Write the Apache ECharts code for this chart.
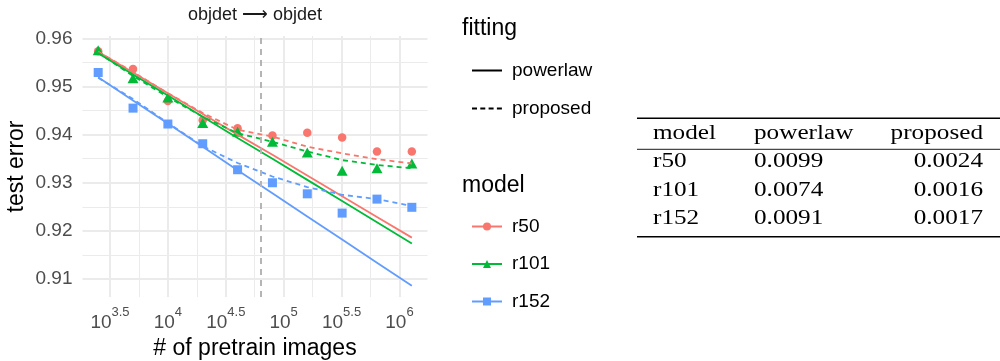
<!DOCTYPE html>
<html><head><meta charset="utf-8">
<script src="https://cdn.jsdelivr.net/npm/echarts@6/dist/echarts.min.js"></script>
<style>html,body{margin:0;padding:0;background:#fff}#c{width:1000px;height:361px}</style>
</head><body><div id="c"></div>
<script>
// ---------- data ----------
const pretrainImages = [2500, 5000, 10000, 20000, 40000, 80000, 160000, 320000, 640000, 1280000];
const modelNames = ['r50', 'r101', 'r152'];
const r50Points  = [0.9573, 0.9536, 0.9470, 0.9430, 0.9413, 0.9398, 0.9404, 0.9394, 0.9365, 0.9365];
const r101Points = [0.9575, 0.9517, 0.9477, 0.9424, 0.9406, 0.9385, 0.9363, 0.9325, 0.9330, 0.9340];
const r152Points = [0.9529, 0.9455, 0.9422, 0.9381, 0.9327, 0.9300, 0.9277, 0.9237, 0.9266, 0.9249];
const r50Powerlaw  = [0.9572, 0.9529, 0.9486, 0.9443, 0.9400, 0.9358, 0.9315, 0.9272, 0.9229, 0.9186];
const r101Powerlaw = [0.9569, 0.9525, 0.9481, 0.9437, 0.9393, 0.9350, 0.9306, 0.9262, 0.9218, 0.9174];
const r152Powerlaw = [0.9519, 0.9471, 0.9423, 0.9375, 0.9326, 0.9278, 0.9230, 0.9182, 0.9134, 0.9086];
const r50Proposed  = [0.9572, 0.9530, 0.9486, 0.9445, 0.9410, 0.9396, 0.9375, 0.9361, 0.9349, 0.9340];
const r101Proposed = [0.9570, 0.9522, 0.9478, 0.9437, 0.9403, 0.9385, 0.9365, 0.9347, 0.9337, 0.9330];
const r152Proposed = [0.9518, 0.9474, 0.9424, 0.9376, 0.9341, 0.9313, 0.9291, 0.9275, 0.9266, 0.9252];
const dividerImages = 63096;
const xTickExponents = [3.5, 4, 4.5, 5, 5.5, 6];
const xTickLabels = ['3.5', '4', '4.5', '5', '5.5', '6'];
const xMinorExponents = [3.75, 4.25, 4.75, 5.25, 5.75];
const yTicks = [0.91, 0.92, 0.93, 0.94, 0.95, 0.96];
const yMinorTicks = [0.915, 0.925, 0.935, 0.945, 0.955];
const tableHeader = ['model', 'powerlaw', 'proposed'];
const tableModels = ['r50', 'r101', 'r152'];
const tablePowerlaw = ['0.0099', '0.0074', '0.0091'];
const tableProposed = ['0.0024', '0.0016', '0.0017'];

// ---------- styling ----------
const colors = ['#F8766D', '#00BA38', '#619CFF'];
const symbols = ['circle', 'triangle', 'rect'];
const symbolSizes = [8.5, [11, 10], 9];
const pointsList = [r50Points, r101Points, r152Points];
const powerList = [r50Powerlaw, r101Powerlaw, r152Powerlaw];
const propList = [r50Proposed, r101Proposed, r152Proposed];
const FONT = 'Liberation Sans';
const xMin = Math.pow(10, 3.2625), xMax = Math.pow(10, 6.2425);
const yMin = 0.90627, yMax = 0.96048;
const pair = arr => pretrainImages.map((x, i) => [x, arr[i]]);

const series = [];
modelNames.forEach((m, i) => {
  series.push({
    name: m + ' data', type: 'scatter', xAxisIndex: 0, yAxisIndex: 0,
    symbol: symbols[i], symbolSize: symbolSizes[i], data: pair(pointsList[i]),
    itemStyle: { color: colors[i], opacity: 1 }, z: 2, silent: true,
    markLine: i === 0 ? {
      silent: true, symbol: 'none', label: { show: false },
      lineStyle: { color: '#b5b5b5', type: [6, 5], width: 2 },
      data: [{ xAxis: dividerImages }]
    } : undefined
  });
});
modelNames.forEach((m, i) => {
  series.push({
    name: m, type: 'line', data: pair(powerList[i]), symbol: symbols[i], showSymbol: false,
    lineStyle: { color: colors[i], width: 1.8, type: 'solid' }, itemStyle: { color: colors[i] },
    z: 3, silent: true
  });
  series.push({
    name: m + ' proposed', type: 'line', data: pair(propList[i]), symbol: 'none', showSymbol: false,
    lineStyle: { color: colors[i], width: 1.8, type: [5, 4] }, itemStyle: { color: colors[i] },
    z: 3, silent: true
  });
});
series.push({ name: 'powerlaw', type: 'line', data: [], symbol: 'circle',
  lineStyle: { color: '#000', width: 1.8, type: 'solid' }, itemStyle: { color: '#000' } });
series.push({ name: 'proposed', type: 'line', data: [], symbol: 'circle',
  lineStyle: { color: '#000', width: 1.8, type: [5, 3.3] }, itemStyle: { color: '#000' } });

// titles & table graphics
const graphics = [];
graphics.push({ type: 'text', x: 255, y: 15, style: { text: 'objdet \u27F6 objdet', font: '18px ' + FONT, fill: '#1a1a1a', textAlign: 'center', textVerticalAlign: 'middle' } });
graphics.push({ type: 'text', x: 462, y: 29, style: { text: 'fitting', font: '23px ' + FONT, fill: '#000', textAlign: 'left', textVerticalAlign: 'middle' } });
graphics.push({ type: 'text', x: 462, y: 186, style: { text: 'model', font: '23px ' + FONT, fill: '#000', textAlign: 'left', textVerticalAlign: 'middle' } });

const TFONT = '20px "Liberation Serif"';
const colX = [653, 754, 983];
const rowY = [133.3, 161.7, 190.7, 219];
const tcell = (txt, x, y, align) => ({ type: 'text', x: x, y: y, scaleX: 1.26,
  style: { text: txt, font: TFONT, fill: '#000', textAlign: align, textVerticalAlign: 'middle' } });
graphics.push(tcell(tableHeader[0], colX[0], rowY[0], 'left'));
graphics.push(tcell(tableHeader[1], colX[1], rowY[0], 'left'));
graphics.push(tcell(tableHeader[2], colX[2], rowY[0], 'right'));
tableModels.forEach((m, i) => {
  graphics.push(tcell(m, colX[0], rowY[i + 1], 'left'));
  graphics.push(tcell(tablePowerlaw[i], colX[1], rowY[i + 1], 'left'));
  graphics.push(tcell(tableProposed[i], colX[2], rowY[i + 1], 'right'));
});
const rule = (y, w) => ({ type: 'line', shape: { x1: 637, y1: y, x2: 1000, y2: y }, style: { stroke: '#000', lineWidth: w } });
graphics.push(rule(118.3, 1.4), rule(149.3, 0.9), rule(236.7, 1.4));

const chart = echarts.init(document.getElementById('c'), null, { renderer: 'canvas' });
chart.setOption({
  animation: false,
  backgroundColor: '#fff',
  grid: { left: 82.5, top: 36, width: 345, height: 261, containLabel: false, outerBoundsMode: 'none' },
  xAxis: [{
    type: 'log', logBase: 10, min: xMin, max: xMax,
    name: '# of pretrain images', nameLocation: 'middle', nameGap: 40,
    nameTextStyle: { fontFamily: FONT, fontSize: 23, color: '#000' },
    axisLine: { show: false },
    axisTick: { show: false, customValues: xTickExponents.map(e => Math.pow(10, e)) },
    axisLabel: {
      customValues: xTickExponents.map(e => Math.pow(10, e)), margin: 9,
      formatter: function (v) {
        const e = Math.log10(v); let idx = 0, best = Infinity;
        xTickExponents.forEach((t, i) => { if (Math.abs(t - e) < best) { best = Math.abs(t - e); idx = i; } });
        return '{b|10}{s|' + xTickLabels[idx] + '}';
      },
      rich: {
        b: { fontFamily: FONT, fontSize: 19, color: '#4d4d4d', verticalAlign: 'bottom', lineHeight: 26 },
        s: { fontFamily: FONT, fontSize: 13, color: '#4d4d4d', verticalAlign: 'top', lineHeight: 13 }
      }
    },
    splitLine: { show: true, lineStyle: { color: '#ebebeb', width: 2 } }
  }, {
    type: 'log', logBase: 10, min: xMin, max: xMax, position: 'bottom',
    axisLine: { show: false }, axisLabel: { show: false },
    axisTick: { show: false, customValues: xMinorExponents.map(e => Math.pow(10, e)) },
    splitLine: { show: true, lineStyle: { color: '#ebebeb', width: 1 } }
  }],
  yAxis: [{
    type: 'value', min: yMin, max: yMax,
    name: 'test error', nameLocation: 'middle', nameGap: 54, nameRotate: 90,
    nameTextStyle: { fontFamily: FONT, fontSize: 23, color: '#000' },
    axisLine: { show: false },
    axisTick: { show: false, customValues: yTicks },
    axisLabel: { customValues: yTicks, margin: 10, fontFamily: FONT, fontSize: 19, color: '#4d4d4d',
      formatter: v => v.toFixed(2) },
    splitLine: { show: true, lineStyle: { color: '#ebebeb', width: 2 } }
  }, {
    type: 'value', min: yMin, max: yMax, position: 'left',
    axisLine: { show: false }, axisLabel: { show: false },
    axisTick: { show: false, customValues: yMinorTicks },
    splitLine: { show: true, lineStyle: { color: '#ebebeb', width: 1 } }
  }],
  legend: [{
    orient: 'vertical', left: 466, top: 56, itemWidth: 30, itemHeight: 10, itemGap: 19,
    data: [
      { name: 'powerlaw', itemStyle: { opacity: 0, color: 'rgba(0,0,0,0)' } },
      { name: 'proposed', itemStyle: { opacity: 0, color: 'rgba(0,0,0,0)' } }
    ],
    textStyle: { fontFamily: FONT, fontSize: 19, color: '#000', padding: [0, 0, 0, 5] },
    selectedMode: false
  }, {
    orient: 'vertical', left: 466, top: 212, itemWidth: 30, itemHeight: 10, itemGap: 18.5,
    data: modelNames,
    textStyle: { fontFamily: FONT, fontSize: 19, color: '#000', padding: [0, 0, 0, 5] },
    selectedMode: false
  }],
  graphic: graphics,
  series: series
});
</script></body></html>
